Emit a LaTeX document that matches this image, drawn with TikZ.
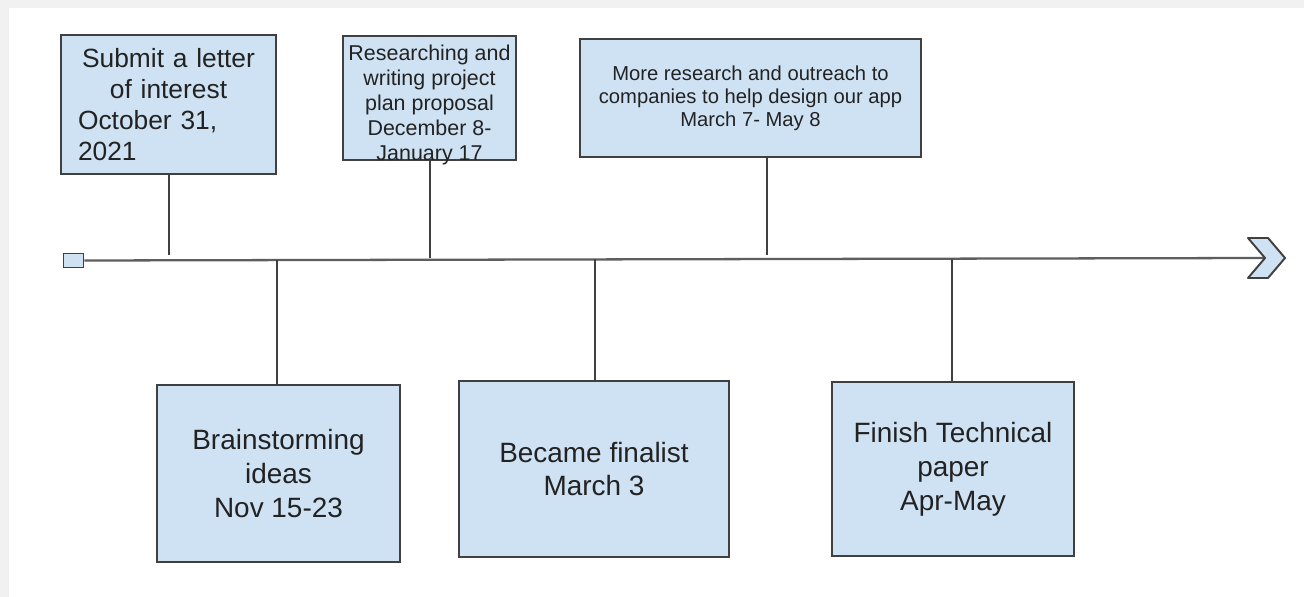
\documentclass[tikz,border=0pt]{standalone}
\usepackage{fontspec}
\setmainfont{Liberation Sans}
\usepackage{tikz}
\definecolor{boxblue}{HTML}{CFE2F3}
\definecolor{edge}{HTML}{404040}
\definecolor{axisgray}{HTML}{5E5E5E}
\definecolor{pagegray}{HTML}{F1F1F1}
\definecolor{ink}{HTML}{222222}

\begin{document}
\begin{tikzpicture}[x=0.02cm, y=-0.02cm,
    event/.style={draw=edge, fill=boxblue, line width=1.1pt, inner sep=0pt, align=center, text=ink},
    stem/.style={draw=edge, line width=1.1pt},
    big/.style={font=\fontsize{15.9}{19.3}\selectfont}]
    \fill[pagegray] (0,0) rectangle (1304,597);
    \fill[white] (9,8) rectangle (1304,597);
    \useasboundingbox (0,0) rectangle (1304,597);

    \node[event, text width=3.62cm, inner xsep=0.34cm, minimum height=2.78cm, align=left,
        font=\fontsize{15}{17.8}\selectfont] (letter) at (168.5,104.5)
        {\centering Submit a letter\\of interest\par\raggedright October 31,\\2021};
    \node[event, minimum width=3.46cm, minimum height=2.48cm] (plan) at (429.5,98) {};
    \node[inner sep=0pt, align=center, text=ink, font=\fontsize{12.2}{14.3}\selectfont] (plantext) at (429.5,105)
        {Researching and\\writing project\\plan proposal\\December 8-\\January 17};
    \node[event, minimum width=6.82cm, minimum height=2.36cm, font=\fontsize{11.5}{13.2}\selectfont] (outreach) at (750.5,98)
        {More research and outreach to\\companies to help design our app\\March 7- May 8};

    \node[event, big, minimum width=4.86cm, minimum height=3.54cm] (brainstorm) at (278.5,473.5)
        {Brainstorming\\ideas\\Nov 15-23};
    \node[event, big, minimum width=5.40cm, minimum height=3.52cm] (finalist) at (594,469)
        {Became finalist\\March 3};
    \node[event, big, minimum width=4.84cm, minimum height=3.48cm] (paper) at (953,469)
        {Finish Technical\\paper\\Apr-May};

    \coordinate (notch) at (1265,258);
    \coordinate (t1) at (169,255);
    \coordinate (t2) at (430,258.5);
    \coordinate (t3) at (767,255.5);
    \coordinate (b4) at (277,260);
    \coordinate (b5) at (595,259.4);
    \coordinate (b6) at (952,258.7);

    \node[draw=edge, fill=boxblue, line width=1.1pt, minimum width=0.4cm, minimum height=0.28cm, inner sep=0pt] (start) at (73.5,260.5) {};
    \draw[axisgray, line width=1.3pt] (start.east) -- (notch);
    \draw[draw=edge, fill=boxblue, line width=1.1pt, line join=round]
        (1248,238) -- (1268,238) -- (1285,258) -- (1268,278) -- (1248,278) -- (notch) -- cycle;

    \draw[stem] (letter.south -| t1) -- (t1);
    \draw[stem] (plan.south -| t2) -- (t2);
    \draw[stem] (outreach.south -| t3) -- (t3);
    \draw[stem] (b4) -- (brainstorm.north -| b4);
    \draw[stem] (b5) -- (finalist.north -| b5);
    \draw[stem] (b6) -- (paper.north -| b6);
\end{tikzpicture}
\end{document}
